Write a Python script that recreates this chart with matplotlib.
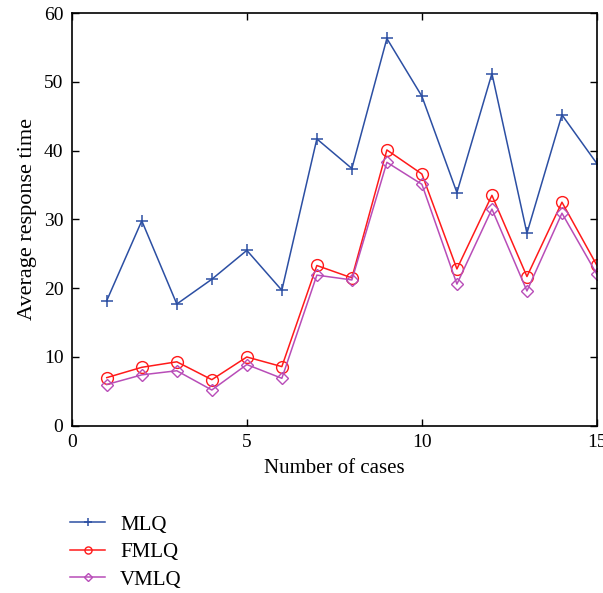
import numpy as np
import matplotlib
matplotlib.use("Agg")
import matplotlib.pyplot as plt

# data
cases = list(range(1, 16))
mlq = [18.2, 29.8, 17.7, 21.3, 25.5, 19.7, 41.7, 37.4, 56.3, 47.9, 33.9, 51.2, 28.0, 45.2, 38.1]
fmlq = [7.0, 8.5, 9.3, 6.7, 10.0, 8.6, 23.3, 21.5, 40.1, 36.6, 22.8, 33.5, 21.7, 32.5, 23.3]
vmlq = [6.0, 7.4, 8.0, 5.2, 8.9, 6.9, 21.9, 21.2, 38.3, 35.1, 20.6, 31.5, 19.6, 30.9, 22.0]

x_ticks = [0, 5, 10, 15]
y_ticks = [0, 10, 20, 30, 40, 50, 60]

plt.rcParams['font.family'] = ['Liberation Serif', 'DejaVu Serif']
plt.rcParams['font.size'] = 14

fig = plt.figure(figsize=(6.03, 5.93), dpi=100)
ax = fig.add_axes([0.119, 0.282, 0.871, 0.696])

ax.plot(cases, mlq, color='#2c4fa3', lw=1.1, marker='+', ms=9, mew=1.1, label='MLQ')
ax.plot(cases, fmlq, color='#ff1a1a', lw=1.1, marker='o', ms=8.5, mfc='none', mew=1.0, label='FMLQ')
ax.plot(cases, vmlq, color='#b84db8', lw=1.1, marker='D', ms=6.5, mfc='none', mew=1.0, label='VMLQ')

ax.set_xlim(0, 15)
ax.set_ylim(0, 60)
ax.set_xticks(x_ticks)
ax.set_yticks(y_ticks)
ax.tick_params(direction='in', top=True, right=True, length=5, width=1, labelsize=14, pad=6)
for s in ax.spines.values():
    s.set_linewidth(1.2)

ax.set_xlabel('Number of cases', fontsize=15, labelpad=6)
ax.set_ylabel('Average response time', fontsize=16, labelpad=5)

fig.legend(loc='upper left', bbox_to_anchor=(0.085, 0.163), frameon=False,
           handlelength=1.7, handletextpad=0.7, labelspacing=0.38,
           markerscale=0.6, fontsize=15)

fig.savefig('out.png', dpi=100)
